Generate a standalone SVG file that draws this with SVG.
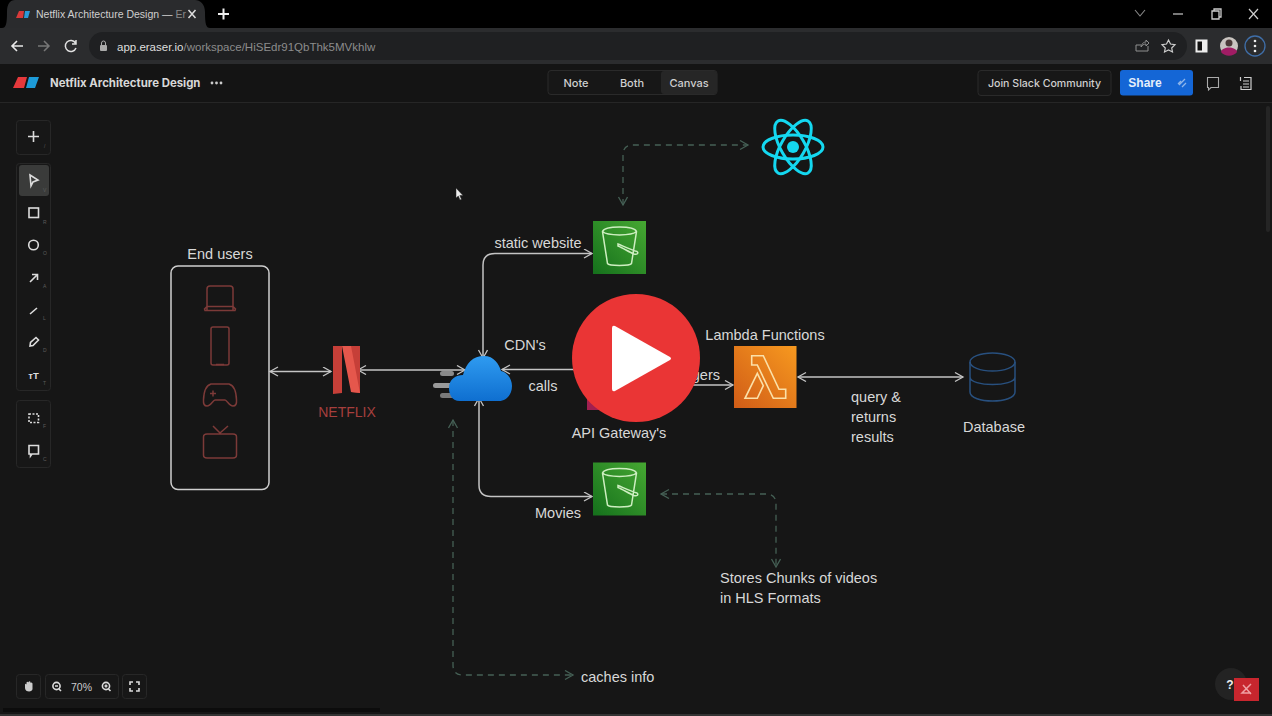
<svg xmlns="http://www.w3.org/2000/svg" width="1272" height="716" viewBox="0 0 1272 716">
<defs>
<linearGradient id="gG" x1="0" y1="1" x2="1" y2="0"><stop offset="0" stop-color="#15701c"/><stop offset="1" stop-color="#46a832"/></linearGradient>
<linearGradient id="gO" x1="0" y1="1" x2="1" y2="0"><stop offset="0" stop-color="#d05c17"/><stop offset="1" stop-color="#f7991f"/></linearGradient>
<linearGradient id="gB" x1="0" y1="0" x2="0" y2="1"><stop offset="0" stop-color="#2f9bf0"/><stop offset="1" stop-color="#0f6fd0"/></linearGradient>
<marker id="a" markerWidth="12" markerHeight="12" refX="9" refY="5" orient="auto-start-reverse" markerUnits="userSpaceOnUse"><path d="M1 0.5L9 5L1 9.5" fill="none" stroke="#c4c4c4" stroke-width="1.300"/></marker>
<marker id="d" markerWidth="12" markerHeight="12" refX="9" refY="5" orient="auto-start-reverse" markerUnits="userSpaceOnUse"><path d="M1 0.5L9 5L1 9.5" fill="none" stroke="#456055" stroke-width="1.300"/></marker>
<g id="bucket"><rect width="53" height="53" fill="url(#gG)"/><path d="M9.500 10.500C12 4.500 41 4.500 43.500 10.500L38.500 42.500C37 45 16 45 14.500 42.500ZM9.500 10.500C14 15 39 15 43.500 10.500M25 23C30 25 39 29 44 30.500C46 32 44 34 41 33C36 31 30 27 25 25Z" fill="none" stroke="#cdeec0" stroke-width="1.500"/></g>
</defs>
<style>
text{font-family:"Liberation Sans",Arial,sans-serif;fill:#d8d8d8}
.l{font-size:14.500px}
.ui{font-size:11px;fill:#cfcfcf;font-family:"Inter","Liberation Sans",sans-serif;font-weight:500}
.k{font-size:5px;fill:#5c5c5c}
.c{fill:none;stroke:#c4c4c4;stroke-width:1.500}
.dash{fill:none;stroke:#456055;stroke-width:1.300;stroke-dasharray:6 5}
.p{fill:none;stroke:#7c3a38;stroke-width:1.500}
.ic{fill:none;stroke:#dcdcdc;stroke-width:1.600}
.pan{fill:#171717;stroke:#272727;stroke-width:1}
</style>
<rect width="1272" height="716" fill="#161616"/>
<g id="browser">
<rect width="1272" height="28" fill="#000"/>
<path d="M2 28C6 28 7 24 7 12C7 4 10 0 15 0H195C200 0 205 4 205 12C205 24 206 28 210 28Z" fill="#2a2b2d"/>
<rect y="28" width="1272" height="36" fill="#2b2c2e"/>
<rect x="89" y="32" width="1098" height="28" rx="14" fill="#1f2022"/>
<path d="M16 18L19 11H24L23 18Z" fill="#d83a3a"/><path d="M24 18L25 11H30L28 18Z" fill="#2a9ad8"/>
<text x="36" y="18" font-size="10.500" style="fill:#cfcfcf">Netflix Architecture Design — <tspan style="fill:#8a8a8a">Er</tspan></text>
<path d="M188.500 10L195.500 18M195.500 10L188.500 18" stroke="#ddd" stroke-width="1.500" fill="none"/>
<path d="M218 14H229M223.500 8.500V19.500" stroke="#eee" stroke-width="2" fill="none"/>
<path d="M1135 10L1140 16L1145 10" fill="none" stroke="#8a8a8a" stroke-width="1.100"/>
<path d="M1173 14H1183" stroke="#bbb" stroke-width="1.300"/>
<path d="M1212 11H1219V19H1212ZM1214 11V9H1221V17H1219" fill="none" stroke="#ccc" stroke-width="1.300"/>
<path d="M1249 9L1258 19M1258 9L1249 19" fill="none" stroke="#ccc" stroke-width="1.200"/>
<path d="M23 46H12M17 41L12 46L17 51" fill="none" stroke="#e8e8e8" stroke-width="1.600"/>
<path d="M38 46H49M44 41L49 46L44 51" fill="none" stroke="#777" stroke-width="1.500"/>
<path d="M75.500 43A5.500 5.500 0 1 0 76 48M76 40V44H72" fill="none" stroke="#e0e0e0" stroke-width="1.500"/>
<rect x="100" y="45" width="7" height="6" rx="1" fill="#aaa"/><path d="M101.500 45V43A2 2 0 0 1 105.500 43V45" fill="none" stroke="#aaa"/>
<text x="117" y="50.500" font-size="11.500"><tspan style="fill:#dedede">app.eraser.io</tspan><tspan style="fill:#8c8c8c">/workspace/HiSEdr91QbThk5MVkhlw</tspan></text>
<path d="M1136 51V45H1141M1148 46V51H1136M1141 47C1142 43 1144 42 1146 42V40L1149 43L1146 46V44C1144 44 1142 45 1141 47Z" fill="none" stroke="#8f8f8f" stroke-width="1"/>
<path d="M1168.500 40L1170.500 44L1175 44.700L1171.700 48L1172.500 52L1168.500 50L1164.500 52L1165.300 48L1162 44.700L1166.500 44Z" fill="none" stroke="#ccc" stroke-width="1.200"/>
<rect x="1196.500" y="40.500" width="10" height="11" fill="#111" stroke="#eee" stroke-width="2"/><rect x="1202" y="41" width="4" height="10" fill="#eee"/>
<circle cx="1229" cy="46" r="9" fill="#c9c4c0"/><path d="M1221 52C1222 46 1236 46 1237 52C1233 57 1225 57 1221 52Z" fill="#a01c64"/><circle cx="1229" cy="43" r="3.500" fill="#4a3a38"/>
<circle cx="1255" cy="46" r="10" fill="none" stroke="#3f6ea8" stroke-width="1.300"/>
<circle cx="1255" cy="41" r="1.300" fill="#eee"/><circle cx="1255" cy="46" r="1.300" fill="#eee"/><circle cx="1255" cy="51" r="1.300" fill="#eee"/>
</g>
<g id="topbar">
<rect y="64" width="1272" height="38" fill="#141414"/>
<path d="M0 102.500H1272" stroke="#262626"/>
<path d="M13 88L18 77H27L24 88Z" fill="#e5393c"/><path d="M26 88L29 77H39L35 88Z" fill="#1d9bd8"/>
<text x="50" y="87" font-size="11.400" font-weight="700" style="fill:#d8d8d8;font-family:'Inter','Liberation Sans',sans-serif">Netflix Architecture Design</text>
<circle cx="212" cy="83" r="1.400" fill="#ccc"/><circle cx="216.500" cy="83" r="1.400" fill="#ccc"/><circle cx="221" cy="83" r="1.400" fill="#ccc"/>
<rect x="548" y="70.500" width="169" height="24" rx="3" fill="#171717" stroke="#2a2a2a"/>
<rect x="661" y="71" width="56" height="23" rx="3" fill="#262626"/>
<text x="576" y="86.500" class="ui" text-anchor="middle">Note</text>
<text x="632" y="86.500" class="ui" text-anchor="middle">Both</text>
<text x="689" y="86.500" class="ui" text-anchor="middle">Canvas</text>
<rect x="978" y="70.500" width="133" height="25" rx="3" fill="#171717" stroke="#2a2a2a"/>
<text x="1044.500" y="87" class="ui" text-anchor="middle" style="font-size:10.600px">Join Slack Community</text>
<rect x="1120" y="70" width="73" height="25.500" rx="3" fill="#1466d6"/>
<text x="1145" y="87" text-anchor="middle" font-size="12" font-weight="700" style="fill:#e6effa">Share</text>
<path d="M1179 85L1185 79M1178 84L1181 81M1182 87L1186 83" fill="none" stroke="#8fb6ea" stroke-width="1.300"/>
<path d="M1207.500 77.500H1218.500V87.500H1211L1208.500 90V87.500H1207.500Z" fill="none" stroke="#aaa" stroke-width="1.100"/>
<path d="M1244 77.500H1251V89.500H1241V86M1243 81H1249M1243 84H1249M1243 87H1249M1240.500 77V81" fill="none" stroke="#cfcfcf" stroke-width="1.200"/>
<rect x="1266" y="106" width="4" height="126" rx="2" fill="#252525"/>
</g>
<g id="toolbar">
<rect class="pan" x="16.500" y="120.500" width="34" height="34" rx="3"/>
<path d="M28 136.500H39M33.500 131V142" class="ic"/>
<text x="44" y="148" class="k">/</text>
<rect class="pan" x="16.500" y="163.500" width="34" height="227" rx="3"/>
<rect x="19" y="165" width="30" height="31" rx="3" fill="#3a3b3a"/>
<path d="M30 175L38 180L33 182L31 186Z" class="ic"/>
<text x="43" y="192" class="k">V</text>
<rect x="29" y="208" width="9.500" height="9.500" class="ic"/><text x="43" y="224" class="k">R</text>
<circle cx="33.500" cy="245" r="4.800" class="ic"/><text x="43" y="255" class="k">O</text>
<path d="M30 282L37 275M32 274.500H37.500V280" class="ic"/><text x="43" y="288" class="k">A</text>
<path d="M30 314L37 308" class="ic"/><text x="43" y="320" class="k">L</text>
<path d="M30 346L30.500 342.500L36 337.500L38.500 340L33 345.500Z" class="ic"/><text x="43" y="352" class="k">D</text>
<text x="33.500" y="379" text-anchor="middle" font-size="9.500" font-weight="700" style="fill:#ddd">тT</text><text x="43" y="385" class="k">T</text>
<rect class="pan" x="16.500" y="400.500" width="34" height="67" rx="3"/>
<rect x="29" y="414" width="9.500" height="8.500" class="ic" stroke-dasharray="2 1.500"/><text x="43" y="428" class="k">F</text>
<path d="M29 445.500H38.500V454H32L30.500 456V454H29Z" class="ic"/><text x="43" y="461" class="k">C</text>
</g>
<g id="zoombar">
<rect class="pan" x="16.500" y="674.500" width="24" height="24" rx="3"/>
<path d="M25 688V684.500Q25.500 683 26.500 684.500V682.500Q27.500 681 28.500 682.500V682Q29.500 680.500 30.500 682V683Q31.500 682 32.500 683.500V689C32.500 692.500 25 692.500 25 688Z" fill="#ccc"/>
<rect class="pan" x="45.500" y="674.500" width="73" height="24" rx="3"/>
<circle cx="56.500" cy="686" r="3.600" class="ic" stroke-width="1.300"/><path d="M55 686H58M59 689L61 691" class="ic" stroke-width="1.200"/>
<text x="81.500" y="690.500" text-anchor="middle" font-size="10.500" style="fill:#ccc">70%</text>
<circle cx="106" cy="686" r="3.600" class="ic" stroke-width="1.300"/><path d="M104.500 686H107.500M106 684.500V687.500M108.500 689L110.500 691" class="ic" stroke-width="1.200"/>
<rect class="pan" x="122.500" y="674.500" width="24" height="24" rx="3"/>
<path d="M130 685V682H133M136 682H139V685M139 688V691H136M133 691H130V688" class="ic" stroke-width="1.300"/>
<rect x="3" y="708" width="377" height="4" fill="#0c0c0c"/>
<rect y="714" width="1272" height="2" fill="#333"/>
<circle cx="1231" cy="684" r="16" fill="#232323"/>
<text x="1230" y="689" text-anchor="middle" font-size="12" font-weight="700" style="fill:#eee">?</text>
<rect x="1234" y="678" width="25" height="23" fill="#c8262e"/>
<path d="M1243 685L1251 694M1251 684L1242 693H1251" fill="none" stroke="#efa0a4" stroke-width="1.500"/>
<path d="M456 188V198L458.300 196L460 200L461.500 199.300L459.800 195.500H463Z" fill="#eee" stroke="#222" stroke-width="0.500"/>
</g>
<g id="connectors">
<path class="c" d="M270 371.500H331" marker-start="url(#a)" marker-end="url(#a)"/>
<path class="c" d="M358 370H465" marker-start="url(#a)" marker-end="url(#a)"/>
<path class="c" d="M592 253.500H495Q483 253.500 483 265V358" marker-start="url(#a)" marker-end="url(#a)"/>
<path class="c" d="M592 496.500H491Q479 496.500 479 485V398" marker-start="url(#a)" marker-end="url(#a)"/>
<path class="c" d="M600 369.500H502" marker-end="url(#a)"/>
<path class="c" d="M690 385H733" marker-end="url(#a)"/>
<path class="c" d="M798 377H963" marker-start="url(#a)" marker-end="url(#a)"/>
<path class="dash" d="M623 205V155Q623 145 633 145H748" marker-start="url(#d)" marker-end="url(#d)"/>
<path class="dash" d="M661 494H766Q776 494 776 504V567" marker-start="url(#d)" marker-end="url(#d)"/>
<path class="dash" d="M453 420V665Q453 675 463 675H573" marker-start="url(#d)" marker-end="url(#d)"/>
</g>
<g id="end-users">
<rect x="171" y="266" width="98" height="223.500" rx="7" fill="none" stroke="#cfcfcf" stroke-width="1.500"/>
<text x="220" y="259" class="l" text-anchor="middle">End users</text>
<path class="p" d="M207 310.500V289Q207 286 210 286H230Q233 286 233 289V310.500M205 310.500H235L235.500 309L233 306.500H207L204.500 309Z"/>
<rect class="p" x="211" y="327" width="18" height="38" rx="2"/>
<path class="p" d="M216 364.500H224" stroke-width="1"/>
<path class="p" d="M211 384H229Q236 386 236.500 400Q237 406 233 406C229 406 227 400 225 400H215C213 400 211 406 207 406Q203 406 203.500 400Q204 386 211 384ZM210 393.500H216M213 390.500V396.500"/>
<path class="p" d="M213 426L220 433L228 426M207 434H233Q236.500 434 236.500 437V455Q236.500 458 233 458H207Q203.500 458 203.500 455V437Q203.500 434 207 434Z"/>
</g>
<g id="netflix">
<path d="M333 346H342V393L333 394ZM351 346H360V393L351 392Z" fill="#c63f38"/>
<path d="M342 346L351 346L360 393C357 393 354 392 351 392Z" fill="#e5574c"/>
<text x="347" y="417" text-anchor="middle" font-size="14" style="fill:#a63f3d">NETFLIX</text>
</g>
<g id="cdn">
<rect x="440" y="371" width="14" height="5" rx="2.500" fill="#8a8a8a"/>
<rect x="433" y="383" width="20" height="5" rx="2.500" fill="#9a9a9a"/>
<rect x="440" y="393" width="14" height="5" rx="2.500" fill="#7a7a7a"/>
<path d="M460 401C451 401 449 393 449 388C449 379 456 375 463 375C466 363 473 356 484 356C494 356 499 364 501 371C507 372 512 379 512 386C512 395 506 401 499 401Z" fill="url(#gB)"/>
<text x="525" y="350" class="l" text-anchor="middle">CDN's</text>
<text x="543" y="391" class="l" text-anchor="middle">calls</text>
</g>
<g id="s3-static">
<use href="#bucket" x="593" y="221"/>
<text x="538" y="248" class="l" text-anchor="middle">static website</text>
</g>
<g id="s3-movies">
<use href="#bucket" x="593" y="462.500"/>
<text x="558" y="518" class="l" text-anchor="middle">Movies</text>
</g>
<g id="react">
<circle cx="793" cy="147" r="6" fill="#14d8f0"/>
<g fill="none" stroke="#14d8f0" stroke-width="3">
<ellipse cx="793" cy="147" rx="30" ry="12"/>
<ellipse cx="793" cy="147" rx="30" ry="12" transform="rotate(60 793 147)"/>
<ellipse cx="793" cy="147" rx="30" ry="12" transform="rotate(120 793 147)"/>
</g>
</g>
<g id="api-gateway">
<rect x="587" y="385" width="30" height="25" fill="#a01f50"/>
<text x="619" y="438" class="l" text-anchor="middle">API Gateway's</text>
<text x="720" y="380" class="l" text-anchor="end">triggers</text>
</g>
<g id="lambda">
<rect x="734" y="346" width="62.500" height="62" fill="url(#gO)"/>
<path d="M751.700 355.700H763.300L779 389.300H785.700V398.300H773.300L757.300 365H751.700ZM757.300 373.300L745 398.300H757.300L763.300 385.700Z" fill="none" stroke="#fbe0a8" stroke-width="1.600"/>
<text x="765" y="340" class="l" text-anchor="middle">Lambda Functions</text>
</g>
<g id="query-label">
<text x="851" y="402" class="l">query &amp;</text>
<text x="851" y="422" class="l">returns</text>
<text x="851" y="442" class="l">results</text>
</g>
<g id="database">
<g fill="none" stroke="#28507f" stroke-width="1.500">
<ellipse cx="992.500" cy="362" rx="22.500" ry="9"/>
<path d="M970 362V392C970 404 1015 404 1015 392V362M970 377C970 387 1015 387 1015 377"/>
</g>
<text x="994" y="432" class="l" text-anchor="middle">Database</text>
</g>
<g id="stores-label">
<text x="720" y="583" class="l">Stores Chunks of videos</text>
<text x="720" y="603" class="l">in HLS Formats</text>
</g>
<g id="caches-label">
<text x="581" y="682" class="l">caches info</text>
</g>
<g id="play">
<circle cx="636" cy="358" r="64" fill="#ea3535"/>
<path d="M612 328Q612 325 615 326L670 357Q672 358.500 670 360L615 391Q612 392 612 389Z" fill="#fff"/>
</g>
</svg>
